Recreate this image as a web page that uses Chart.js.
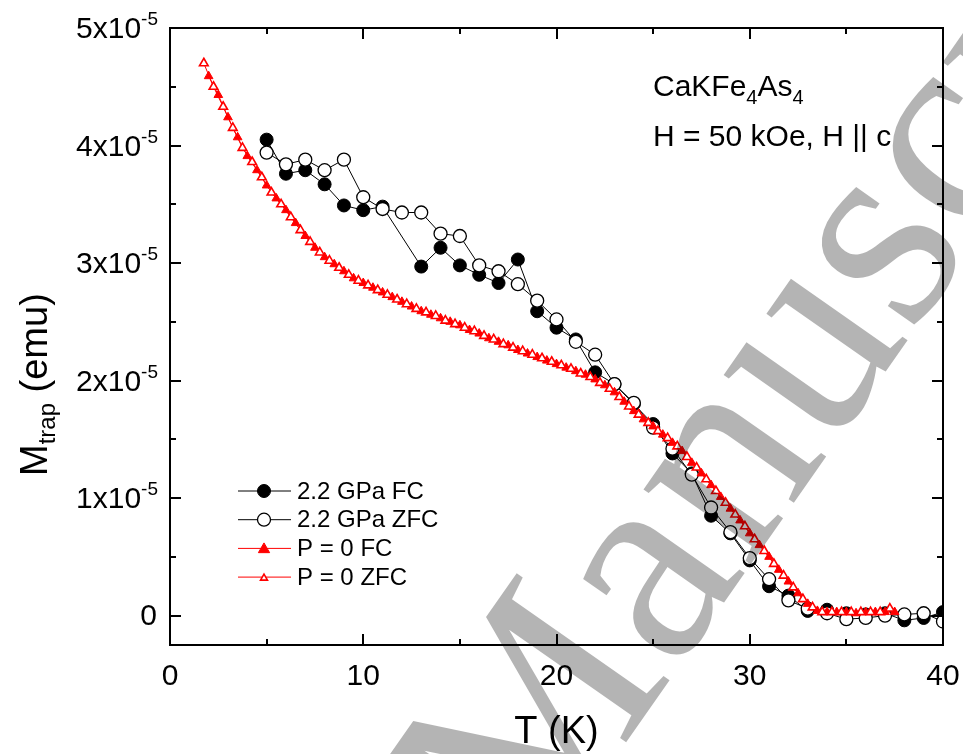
<html><head>
  <meta charset="utf-8">
  <title>CaKFe4As4 trapped moment</title>
  <script src="https://cdn.jsdelivr.net/npm/chart.js"></script>
  <style>
    body {
      margin: 0;
      background: #fff;
    }
    #wrap {
      width: 963px;
      height: 754px;
    }
  </style>
</head>
<body>
  <div id="wrap"><canvas id="mtrapChart" width="963" height="754"></canvas></div>

  <script>
    // moments are in units of 1e-5 emu, temperatures in K

    // 2.2 GPa, field cooled (no point at 12 K)
    const tFC22 = [5, 6, 7, 8, 9, 10, 11, 13, 14, 15, 16, 17, 18, 19, 20, 21, 22, 23, 24, 25,
      26, 27, 28, 29, 30, 31, 32, 33, 34, 35, 36, 37, 38, 39, 40];
    const mFC22 = [4.05, 3.76, 3.79, 3.67, 3.49, 3.45, 3.48, 2.97, 3.13, 2.98, 2.90, 2.83, 3.03, 2.59, 2.45, 2.35, 2.07, 1.97, 1.80, 1.63,
      1.38, 1.21, 0.85, 0.70, 0.47, 0.25, 0.17, 0.04, 0.05, 0.02, 0.01, 0.02, -0.04, -0.02, 0.03];

    // 2.2 GPa, zero field cooled
    const tZFC22 = [5, 6, 7, 8, 9, 10, 11, 12, 13, 14, 15, 16, 17, 18, 19, 20, 21, 22, 23, 24,
      25, 26, 27, 28, 29, 30, 31, 32, 33, 34, 35, 36, 37, 38, 39, 40];
    const mZFC22 = [3.94, 3.84, 3.88, 3.79, 3.88, 3.56, 3.46, 3.43, 3.43, 3.25, 3.23, 2.98, 2.93, 2.82, 2.68, 2.52, 2.33, 2.22, 1.97, 1.81,
      1.60, 1.42, 1.20, 0.92, 0.71, 0.49, 0.31, 0.13, 0.06, 0.02, -0.03, -0.02, 0.00, 0.01, 0.02, -0.05];

    // ambient pressure, field cooled
    const tFC0 = [2, 2.5, 3, 3.5, 4, 4.5, 5, 5.5, 6, 6.5, 7, 7.5, 8, 8.5, 9, 9.5, 10, 10.5, 11, 11.5,
      12, 12.5, 13, 13.5, 14, 14.5, 15, 15.5, 16, 16.5, 17, 17.5, 18, 18.5, 19, 19.5, 20, 20.5, 21, 21.5,
      22, 22.5, 23, 23.5, 24, 24.5, 25, 25.5, 26, 26.5, 27, 27.5, 28, 28.5, 29, 29.5, 30, 30.5, 31, 31.5,
      32, 32.5, 33, 33.5, 34, 34.5, 35, 35.5, 36, 36.5, 37, 37.5];
    const mFC0 = [4.59, 4.43, 4.24, 4.07, 3.91, 3.79, 3.66, 3.55, 3.45, 3.34, 3.23, 3.13, 3.05, 2.99, 2.93, 2.87, 2.83, 2.79, 2.75, 2.71,
      2.67, 2.63, 2.59, 2.56, 2.53, 2.50, 2.47, 2.43, 2.40, 2.36, 2.33, 2.30, 2.26, 2.23, 2.20, 2.17, 2.14, 2.11, 2.08, 2.05,
      2.01, 1.96, 1.90, 1.82, 1.74, 1.67, 1.61, 1.54, 1.47, 1.40, 1.30, 1.21, 1.11, 1.01, 0.91, 0.81, 0.70, 0.60, 0.50, 0.39,
      0.29, 0.19, 0.10, 0.04, 0.03, 0.03, 0.03, 0.02, 0.03, 0.03, 0.03, 0.03];

    // ambient pressure, zero field cooled
    const tZFC0 = [1.75, 2.25, 2.75, 3.25, 3.75, 4.25, 4.75, 5.25, 5.75, 6.25, 6.75, 7.25, 7.75, 8.25, 8.75, 9.25, 9.75, 10.25, 10.75, 11.25,
      11.75, 12.25, 12.75, 13.25, 13.75, 14.25, 14.75, 15.25, 15.75, 16.25, 16.75, 17.25, 17.75, 18.25, 18.75, 19.25, 19.75, 20.25, 20.75, 21.25,
      21.75, 22.25, 22.75, 23.25, 23.75, 24.25, 24.75, 25.25, 25.75, 26.25, 26.75, 27.25, 27.75, 28.25, 28.75, 29.25, 29.75, 30.25, 30.75, 31.25,
      31.75, 32.25, 32.75, 33.25, 33.75, 34.25, 34.75, 35.25, 35.75, 36.25, 36.75, 37.25];
    const mZFC0 = [4.70, 4.50, 4.33, 4.15, 3.98, 3.86, 3.73, 3.60, 3.50, 3.39, 3.28, 3.18, 3.09, 3.02, 2.96, 2.90, 2.85, 2.81, 2.77, 2.73,
      2.69, 2.65, 2.61, 2.58, 2.55, 2.51, 2.48, 2.45, 2.42, 2.38, 2.35, 2.31, 2.28, 2.25, 2.22, 2.19, 2.16, 2.13, 2.10, 2.06,
      2.03, 1.98, 1.93, 1.86, 1.78, 1.71, 1.64, 1.57, 1.51, 1.44, 1.35, 1.26, 1.16, 1.06, 0.96, 0.86, 0.76, 0.65, 0.55, 0.44,
      0.34, 0.24, 0.14, 0.07, 0.03, 0.03, 0.03, 0.03, 0.03, 0.03, 0.03, 0.06];

    // axis ticks
    const xMajor = [0, 10, 20, 30, 40];
    const xMinor = [5, 15, 25, 35];
    const yMajor = [0, 1, 2, 3, 4, 5];
    const yMinor = [0.5, 1.5, 2.5, 3.5, 4.5];
    const yExponent = '-5';

    const SANS = '"Liberation Sans", Arial, Helvetica, sans-serif';

    function pts(xs, ys) {
      return xs.map((x, i) => ({ x: x, y: ys[i] }));
    }

    // draws text pieces in a row; pieces are [text, size, shift]
    function drawRich(ctx, pieces, x, y) {
      let cx = x;
      pieces.forEach(p => {
        ctx.font = p[1] + 'px ' + SANS;
        ctx.fillText(p[0], cx, y + (p[2] || 0));
        cx += ctx.measureText(p[0]).width;
      });
    }

    const plotDecor = {
      id: 'plotDecor',
      beforeDraw(chart) {
        const ctx = chart.ctx;
        ctx.save();
        ctx.fillStyle = '#fff';
        ctx.fillRect(0, 0, chart.width, chart.height);
        ctx.restore();
      },
      afterDatasetsDraw(chart) {
        // journal watermark
        const ctx = chart.ctx;
        ctx.save();
        ctx.globalCompositeOperation = 'multiply';
        ctx.fillStyle = '#b4b4b4';
        ctx.font = '285px "Liberation Serif", "Times New Roman", serif';
        ctx.translate(529, 881);
        ctx.rotate(-55 * Math.PI / 180);
        ctx.textBaseline = 'alphabetic';
        ctx.fillText('Manuscript', 0, 0);
        ctx.restore();
      },
      afterDraw(chart) {
        const ctx = chart.ctx;
        const a = chart.chartArea;
        const xs = chart.scales.x;
        const ys = chart.scales.y;
        ctx.save();
        ctx.strokeStyle = '#000';
        ctx.fillStyle = '#000';
        ctx.lineWidth = 2;
        ctx.strokeRect(a.left, a.top, a.right - a.left, a.bottom - a.top);

        // inward ticks on all four sides
        ctx.beginPath();
        const tick = (vals, len, horiz) => {
          vals.forEach(v => {
            if (horiz) {
              const px = Math.round(xs.getPixelForValue(v));
              ctx.moveTo(px, a.bottom); ctx.lineTo(px, a.bottom - len);
              ctx.moveTo(px, a.top); ctx.lineTo(px, a.top + len);
            } else {
              const py = Math.round(ys.getPixelForValue(v));
              ctx.moveTo(a.left, py); ctx.lineTo(a.left + len, py);
              ctx.moveTo(a.right, py); ctx.lineTo(a.right - len, py);
            }
          });
        };
        tick(xMajor, 11, true);
        tick(xMinor, 6, true);
        tick(yMajor, 11, false);
        tick(yMinor, 6, false);
        ctx.stroke();

        // x tick labels
        ctx.font = '30px ' + SANS;
        ctx.textAlign = 'center';
        ctx.textBaseline = 'alphabetic';
        xMajor.forEach(v => ctx.fillText(String(v), xs.getPixelForValue(v), 685));

        // y tick labels with power of ten
        ctx.textAlign = 'right';
        yMajor.forEach(v => {
          const py = ys.getPixelForValue(v);
          if (v === 0) {
            ctx.font = '30px ' + SANS;
            ctx.textBaseline = 'middle';
            ctx.fillText('0', 157, py + 1);
            return;
          }
          ctx.font = '19px ' + SANS;
          ctx.textBaseline = 'alphabetic';
          ctx.fillText(yExponent, 158, py - 3);
          const ew = ctx.measureText(yExponent).width;
          ctx.font = '30px ' + SANS;
          ctx.textBaseline = 'middle';
          ctx.fillText(v + 'x10', 158 - ew, py + 2);
        });

        // axis titles
        ctx.textAlign = 'center';
        ctx.textBaseline = 'alphabetic';
        ctx.font = '38px ' + SANS;
        ctx.fillText('T (K)', (a.left + a.right) / 2, 743);

        ctx.save();
        ctx.translate(47, 476);
        ctx.rotate(-Math.PI / 2);
        ctx.textAlign = 'left';
        drawRich(ctx, [['M', 38, 0], ['trap', 24, 8], [' (emu)', 38, 0]], 0, 0);
        ctx.restore();

        // sample and field annotation
        ctx.textAlign = 'left';
        drawRich(ctx, [['CaKFe', 30, 0], ['4', 20, 8], ['As', 30, 0], ['4', 20, 8]], 653, 96);
        drawRich(ctx, [['H = 50 kOe, H || c', 30, 0]], 653, 146);

        // legend, same order as in the paper
        const rows = [3, 2, 1, 0];
        const legendSizes = [4, 6.5, 6.5, 6.5];
        rows.forEach((di, r) => {
          const d = chart.data.datasets[di];
          const y = 491 + r * 28.7;
          ctx.lineWidth = 1;
          ctx.strokeStyle = d.borderColor;
          ctx.beginPath();
          ctx.moveTo(238, y); ctx.lineTo(291, y);
          ctx.stroke();
          ctx.fillStyle = d.pointBackgroundColor;
          ctx.strokeStyle = d.pointBorderColor;
          ctx.lineWidth = d.pointBorderWidth;
          Chart.helpers.drawPoint(ctx, {
            pointStyle: d.pointStyle, radius: legendSizes[di], rotation: 0, borderWidth: d.pointBorderWidth
          }, 264, y + (d.pointStyle === 'triangle' ? 1 : 0));
          ctx.fillStyle = '#000';
          ctx.font = '24px ' + SANS;
          ctx.textBaseline = 'middle';
          ctx.fillText(d.label, 297, y + 1);
        });
        ctx.restore();
      }
    };

    const ctx = document.getElementById('mtrapChart').getContext('2d');
    new Chart(ctx, {
      type: 'line',
      data: {
        datasets: [{
          label: 'P = 0 ZFC',
          data: pts(tZFC0, mZFC0),
          borderColor: '#ff0000',
          borderWidth: 1,
          pointStyle: 'triangle',
          pointRadius: 5,
          pointBackgroundColor: '#ffffff',
          pointBorderColor: '#ff0000',
          pointBorderWidth: 1.6
        }, {
          label: 'P = 0 FC',
          data: pts(tFC0, mFC0),
          borderColor: '#ff0000',
          borderWidth: 1,
          pointStyle: 'triangle',
          pointRadius: 5,
          pointBackgroundColor: '#ff0000',
          pointBorderColor: '#ff0000',
          pointBorderWidth: 1
        }, {
          label: '2.2 GPa ZFC',
          data: pts(tZFC22, mZFC22),
          borderColor: '#000000',
          borderWidth: 1,
          pointStyle: 'circle',
          pointRadius: 6.5,
          pointBackgroundColor: '#ffffff',
          pointBorderColor: '#000000',
          pointBorderWidth: 1.3
        }, {
          label: '2.2 GPa FC',
          data: pts(tFC22, mFC22),
          borderColor: '#000000',
          borderWidth: 1,
          pointStyle: 'circle',
          pointRadius: 6.5,
          pointBackgroundColor: '#000000',
          pointBorderColor: '#000000',
          pointBorderWidth: 1
        }]
      },
      options: {
        responsive: false,
        animation: false,
        devicePixelRatio: 1,
        layout: {
          padding: { left: 170, right: 20, top: 28, bottom: 109 }
        },
        elements: {
          line: { tension: 0 }
        },
        plugins: {
          legend: { display: false },
          tooltip: { enabled: false }
        },
        scales: {
          x: { type: 'linear', min: 0, max: 40, display: false },
          y: { type: 'linear', min: -0.25, max: 5, display: false }
        }
      },
      plugins: [plotDecor]
    });
  </script>
</body></html>
